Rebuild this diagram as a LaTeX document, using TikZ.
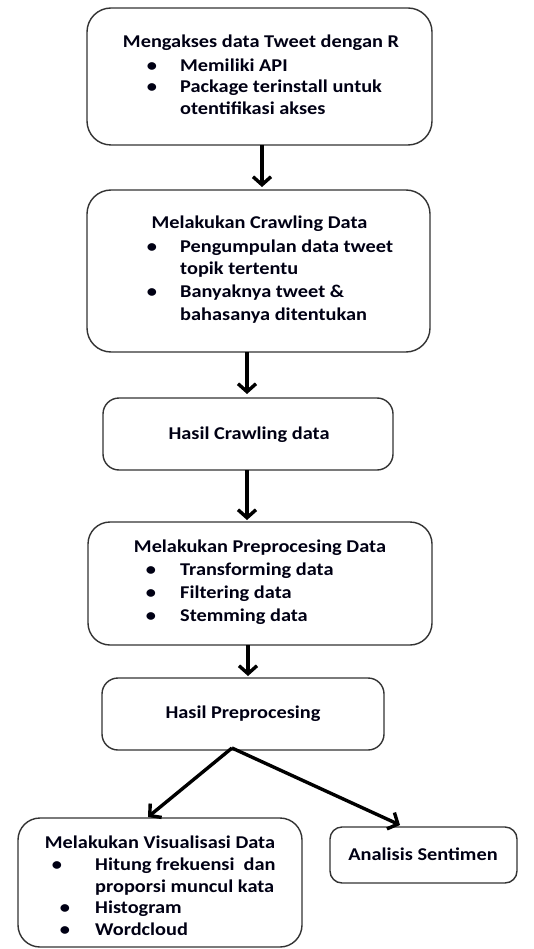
\documentclass[tikz,border=0pt]{standalone}
\usepackage{fontspec}
\setmainfont{Carlito}[FakeStretch=1.13]
\usetikzlibrary{arrows.meta}
\begin{document}
\begin{tikzpicture}[x=1pt,y=-1pt,
  box/.style={draw=black!80,line width=1.4pt,fill=white},
  arr/.style={line width=3.4pt,-{Straight Barb[length=8pt,width=18pt,line width=3.4pt]}},
  txt/.style={font=\fontsize{18}{22}\selectfont\bfseries,text=black!92!blue,inner sep=0pt},
  bul/.style={txt,anchor=base},
  lin/.style={txt,anchor=base west}]
\useasboundingbox[fill=white] (0,0) rectangle (534,949);
% box corners
\path (87,8) coordinate (b1nw) (432,145) coordinate (b1se)
      (87,190) coordinate (b2nw) (430,352) coordinate (b2se)
      (103,398) coordinate (b3nw) (393,470) coordinate (b3se)
      (88,522) coordinate (b4nw) (432,645) coordinate (b4se)
      (102,678) coordinate (b5nw) (384,750) coordinate (b5se)
      (18,818) coordinate (b6nw) (302,947) coordinate (b6se)
      (330,827) coordinate (b7nw) (517,883) coordinate (b7se);
% boxes
\draw[box,rounded corners=24pt] (b1nw) rectangle (b1se);
\draw[box,rounded corners=24pt] (b2nw) rectangle (b2se);
\draw[box,rounded corners=16pt] (b3nw) rectangle (b3se);
\draw[box,rounded corners=22pt] (b4nw) rectangle (b4se);
\draw[box,rounded corners=16pt] (b5nw) rectangle (b5se);
\draw[box,rounded corners=22pt] (b6nw) rectangle (b6se);
\draw[box,rounded corners=12pt] (b7nw) rectangle (b7se);

% box 1 text
\node[bul] (t1) at (261,48) {Mengakses data Tweet dengan R};
\node[bul] (d11) at (152,72) {•};
\node[lin] (t11) at (180,72) {Memiliki API};
\node[bul] (d12) at (152,93) {•};
\node[lin] (t12) at (180,93) {Package terinstall untuk};
\node[lin] (t13) at (180,115) {otentifikasi akses};
% box 2 text
\node[bul] (t2) at (259.5,229) {Melakukan Crawling Data};
\node[bul] (d21) at (152,253) {•};
\node[lin] (t21) at (180,253) {Pengumpulan data tweet};
\node[lin] (t22) at (180,275) {topik tertentu};
\node[bul] (d22) at (152,298) {•};
\node[lin] (t23) at (180,298) {Banyaknya tweet \&};
\node[lin] (t24) at (180,320) {bahasanya ditentukan};
% box 3
\node[bul] (t3) at (249,439) {Hasil Crawling data};
% box 4
\node[bul] (t4) at (260,552) {Melakukan Preprocesing Data};
\node[bul] (d41) at (151,575) {•};
\node[lin] (t41) at (180,575) {Transforming data};
\node[bul] (d42) at (151,598) {•};
\node[lin] (t42) at (180,598) {Filtering data};
\node[bul] (d43) at (151,621) {•};
\node[lin] (t43) at (180,621) {Stemming data};
% box 5
\node[bul] (t5) at (243,718) {Hasil Preprocesing};
% left box
\node[bul] (t6) at (160,848) {Melakukan Visualisasi Data};
\node[bul] (d61) at (57,870) {•};
\node[lin] (t61) at (95,870) {Hitung frekuensi\ \ dan};
\node[lin] (t62) at (95,892) {proporsi muncul kata};
\node[bul] (d62) at (65,913) {•};
\node[lin] (t63) at (95,913) {Histogram};
\node[bul] (d63) at (65,935) {•};
\node[lin] (t64) at (95,935) {Wordcloud};
% right box
\node[bul] (t7) at (423,860) {Analisis Sentimen};

% arrows
\draw[arr] (b1se -| 262,0) -- (262,187);
\draw[arr] (b2se -| 247,0) -- (247,394);
\draw[arr] (b3se -| 247,0) -- (247,520);
\draw[arr] (b4se -| 248,0) -- (248,676);
\coordinate (fork) at (232,748);
\draw[arr] (fork) -- (148,817);
\draw[arr] (fork) -- (400,825);
\end{tikzpicture}
\end{document}
